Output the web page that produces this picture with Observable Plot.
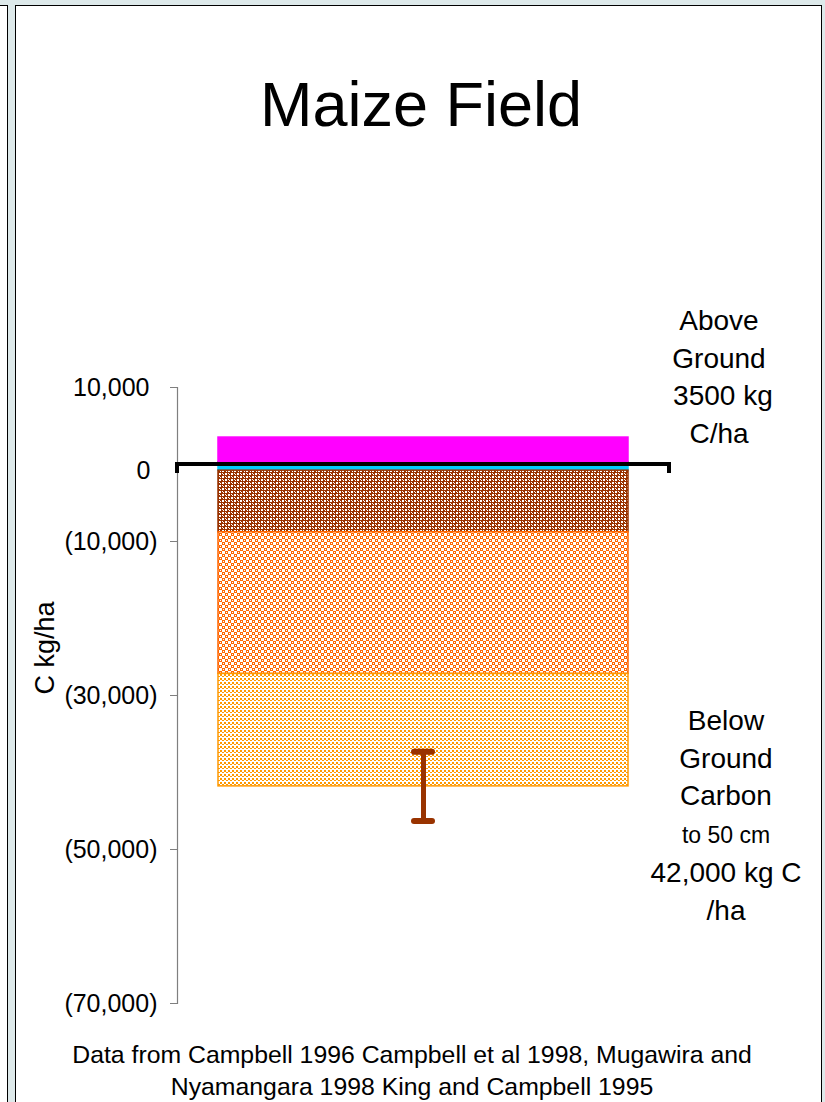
<!DOCTYPE html>
<html>
<head>
<meta charset="utf-8">
<script src="https://cdn.jsdelivr.net/npm/d3@7"></script>
<script src="https://cdn.jsdelivr.net/npm/@observablehq/plot@0.6"></script>
<style>
  html, body { margin: 0; padding: 0; }
  body { width: 825px; height: 1102px; overflow: hidden; background: #dde9ea; position: relative;
         font-family: "Liberation Sans", Arial, sans-serif; color: #000; }
  .box { position: absolute; background: #fff; border: 1.5px solid #000; box-sizing: border-box; }
  .txt { position: absolute; text-align: center; white-space: nowrap; }
</style>
</head>
<body>
<svg width="0" height="0" style="position:absolute">
  <defs>
    <pattern id="pat-brown" patternUnits="userSpaceOnUse" width="6" height="6">
      <rect width="6" height="6" fill="#993300"/>
      <rect x="0" y="0" width="2" height="2" fill="#fff"/>
      <rect x="3" y="3" width="2" height="2" fill="#fff"/>
      <rect x="0" y="3" width="1" height="1" fill="#fff"/>
      <rect x="3" y="0" width="1" height="1" fill="#fff"/>
      <rect x="1" y="4" width="1" height="1" fill="#fff"/>
      <rect x="4" y="1" width="1" height="1" fill="#fff"/>
    </pattern>
    <pattern id="pat-orange" patternUnits="userSpaceOnUse" width="6" height="6">
      <rect width="6" height="6" fill="#fff"/>
      <rect x="0" y="0" width="3" height="3" fill="#ff6600"/>
      <rect x="3" y="3" width="3" height="3" fill="#ff6600"/>
      <rect x="1" y="1" width="1" height="1" fill="#fff"/>
      <rect x="4" y="4" width="1" height="1" fill="#fff"/>
    </pattern>
    <pattern id="pat-light" patternUnits="userSpaceOnUse" width="4" height="4">
      <rect width="4" height="4" fill="#fff"/>
      <rect x="0" y="0" width="2" height="2" fill="#ff9900"/>
      <rect x="2" y="2" width="2" height="1" fill="#ff9900"/>
    </pattern>
  </defs>
</svg>

<div class="box" style="left:-10px; top:5px; width:17.5px; height:1200px;"></div>
<div class="box" style="left:15px; top:5px; width:807px; height:1200px;"></div>

<div class="txt" id="title" style="left:0; width:842px; top:73px; font-size:63px; line-height:62px;"></div>
<div class="txt" id="ylabel" style="left:45px; top:648px; font-size:27px; transform:translate(-50%,-50%) rotate(-90deg);"></div>
<div class="txt" id="noteAbove" style="left:619px; width:200px; top:302px; font-size:28px; line-height:37.6px;"></div>
<div class="txt" id="noteBelow" style="left:626px; width:200px; top:702px; font-size:28px; line-height:37.6px;"></div>
<div class="txt" id="caption" style="left:0; width:824px; top:1039px; font-size:24.8px; line-height:32px;"></div>

<div id="chart" style="position:absolute; left:0; top:290px;"></div>

<script>
// ---------- data ----------
const categories = ["Maize Field"];
const layerNames = ["Litter", "Above ground", "Roots", "Soil layer 1", "Soil layer 2", "Soil layer 3"];
const layerValues = [300, 3200, -800, -8000, -18400, -14600];
const layerFills = ["#00ff00", "#ff00ff", "#00ccff", "url(#pat-brown)", "url(#pat-orange)", "url(#pat-light)"];
const layerStrokes = ["#00ff00", "#ff00ff", "#00ccff", "#993300", "#ff6600", "#ff9900"];
const errorValue = 4500;
const yTicksNeg = [-10000, -30000, -50000, -70000];
const yTicksPos = [10000];
const yTickZero = [0];
const yDomain = [-70000, 10000];

const titleText = "Maize Field";
const yLabelText = "C kg/ha";
const noteAboveLines = ["Above", "Ground", "\u00a03500 kg", "C/ha"];
const noteBelowLines = ["Below", "Ground", "Carbon", "to 50 cm", "42,000 kg C", "/ha"];
const captionLines = ["Data from Campbell 1996 Campbell et al 1998, Mugawira and", "Nyamangara 1998 King and Campbell 1995"];

// ---------- texts ----------
document.getElementById("title").textContent = titleText;
document.getElementById("ylabel").textContent = yLabelText;
document.getElementById("noteAbove").innerHTML = noteAboveLines.join("<br>");
document.getElementById("noteBelow").innerHTML = noteBelowLines
  .map(s => s === "to 50 cm" ? `<span style="font-size:23px">${s}</span>` : s).join("<br>");
document.getElementById("caption").innerHTML = captionLines.join("<br>");

// ---------- table ----------
const rows = layerNames.map((name, i) => ({
  category: categories[0], layer: name, value: layerValues[i],
  fill: layerFills[i], stroke: layerStrokes[i]
}));
const belowTotal = d3.sum(layerValues.filter(v => v < 0));
const errRow = [{category: categories[0], lo: belowTotal - errorValue, hi: belowTotal + errorValue}];

const fmt = d => d < 0 ? `(${d3.format(",")(-d)})` : d3.format(",")(d);

// zero line with end caps at the category axis edges
function zeroLine(index, scales, values, dims) {
  const y0 = scales.y(0);
  const xl = dims.marginLeft, xr = dims.width - dims.marginRight;
  const p = document.createElementNS("http://www.w3.org/2000/svg", "path");
  p.setAttribute("d", `M${xl},${y0 + 9}V${y0}H${xr}V${y0 + 9}`);
  p.setAttribute("fill", "none");
  p.setAttribute("stroke", "#000");
  p.setAttribute("stroke-width", 4);
  return p;
}

const chart = Plot.plot({
  width: 825,
  height: 740,
  marginTop: 97,
  marginBottom: 27,
  marginLeft: 177,
  marginRight: 156,
  style: {fontFamily: "'Liberation Sans', Arial, sans-serif", fontSize: "25px", background: "transparent", overflow: "visible"},
  x: {type: "band", domain: categories, padding: 0.0909, round: false, axis: null},
  y: {domain: yDomain, axis: null},
  color: {type: "identity"},
  marks: [
    Plot.frame({anchor: "left", stroke: "#7f7f7f", strokeWidth: 1.2}),
    Plot.axisY(yTicksNeg, {tickSize: 7, tickPadding: 13, tickFormat: fmt, stroke: "#7f7f7f", fill: "#000", fontSize: 25, label: null}),
    Plot.axisY(yTicksPos, {tickSize: 7, tickPadding: 21, tickFormat: fmt, stroke: "#7f7f7f", fill: "#000", fontSize: 25, label: null}),
    Plot.axisY(yTickZero, {tickSize: 0, tickPadding: 27, tickFormat: fmt, fill: "#000", fontSize: 25, dy: 6, label: null}),
    Plot.barY(rows, Plot.stackY({x: "category", y: "value", fill: "fill", stroke: "stroke", strokeWidth: 1.5})),
    Plot.ruleX(errRow, {x: "category", y1: "lo", y2: "hi", stroke: "#993300", strokeWidth: 5}),
    Plot.tickY(errRow, {x: "category", y: "lo", stroke: "#993300", strokeWidth: 6, strokeLinecap: "round", insetLeft: 196, insetRight: 196}),
    Plot.tickY(errRow, {x: "category", y: "hi", stroke: "#993300", strokeWidth: 6, strokeLinecap: "round", insetLeft: 196, insetRight: 196}),
    zeroLine
  ]
});
document.getElementById("chart").appendChild(chart);
</script>
</body>
</html>
